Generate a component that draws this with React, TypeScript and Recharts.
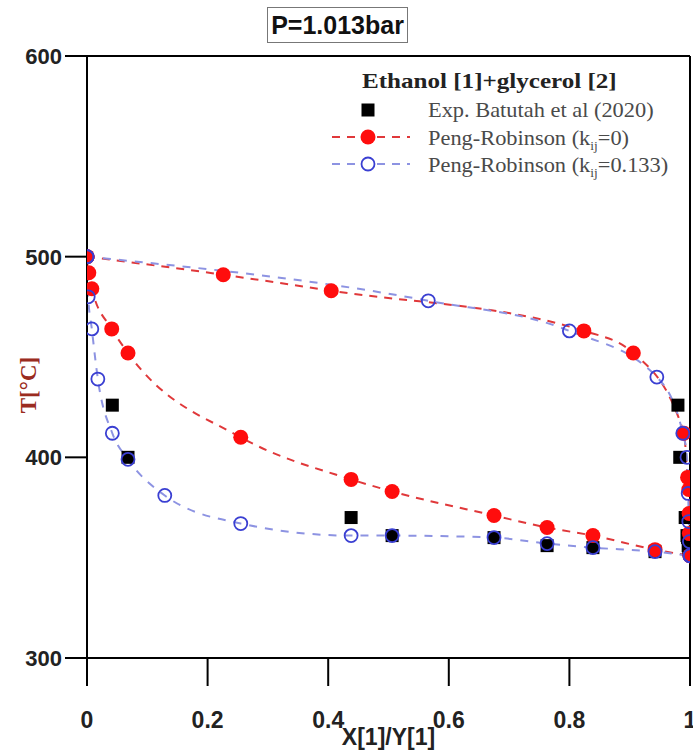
import React from 'react';
import { ComposedChart, Line, Scatter, XAxis, YAxis, ReferenceLine, Legend, Label } from 'recharts';

// Experimental data: Batutah et al (2020)
const expX = [0.042, 0.068, 0.438, 0.506, 0.675, 0.763, 0.839, 0.942, 0.980, 0.983, 0.992, 0.995, 0.996, 0.997, 0.998, 0.999];
const expT = [426, 400, 370, 361, 360, 356, 355, 353, 426, 400, 370, 361, 360, 356, 355, 353];

// Peng-Robinson kij = 0
const pr0BubbleX = [0, 0.003, 0.008, 0.041, 0.068, 0.255, 0.438, 0.506, 0.675, 0.763, 0.839, 0.942, 1];
const pr0BubbleT = [500, 492, 484, 464, 452, 410, 389, 383, 371, 365, 361, 354, 351];
const pr0DewX = [0, 0.226, 0.405, 0.824, 0.906, 0.99, 0.996, 0.998, 0.9985, 0.999, 1];
const pr0DewT = [500, 491, 483, 463, 452, 412, 390, 384, 372, 362, 351];

// Peng-Robinson kij = 0.133
const pr133BubbleX = [0, 0.002, 0.008, 0.018, 0.042, 0.068, 0.129, 0.255, 0.438, 0.506, 0.675, 0.763, 0.839, 0.942, 1];
const pr133BubbleT = [500, 480, 464, 439, 412, 399, 381, 367, 361, 361, 360, 357, 355, 353, 351];
const pr133DewX = [0, 0.566, 0.8, 0.945, 0.988, 0.995, 0.997, 0.998, 0.999, 1];
const pr133DewT = [500, 478, 463, 440, 412, 400, 382, 368, 358, 351];

const xMajorTicks = [0, 0.2, 0.4, 0.6, 0.8, 1];
const xMinorTicks = [0.1, 0.3, 0.5, 0.7, 0.9];
const yMajorTicks = [300, 400, 500, 600];
const yMinorTicks = [350, 450, 550];

const zip = (xs: number[], ts: number[]) => xs.map((x, i) => ({ x, t: ts[i] }));

const expData = zip(expX, expT);
const pr0Bubble = zip(pr0BubbleX, pr0BubbleT);
const pr0Dew = zip(pr0DewX, pr0DewT);
const pr133Bubble = zip(pr133BubbleX, pr133BubbleT);
const pr133Dew = zip(pr133DewX, pr133DewT);

const RED = '#ff0d0d';
const RED_LINE = '#e0383a';
const BLUE = '#3a3fd2';
const BLUE_LINE = '#8d93e2';
const SANS = '"Liberation Sans", Arial, sans-serif';
const SERIF = '"Liberation Serif", "Times New Roman", serif';

const YTick = (props: any) => {
  const { x, y, payload } = props;
  return (
    <text x={x} y={y} dy="0.36em" textAnchor="end" fontFamily={SANS} fontWeight="bold" fontSize={22} fill="#222" stroke="none">
      {String(payload.value)}
    </text>
  );
};

const XTick = (props: any) => {
  const { x, y, payload } = props;
  return (
    <text x={x} y={Number(y) + 34} dy="0.36em" textAnchor="middle" fontFamily={SANS} fontWeight="bold" fontSize={23} fill="#222" stroke="none">
      {String(payload.value)}
    </text>
  );
};

const SquareShape = (props: any) => {
  const { cx, cy } = props;
  return <rect x={cx - 6.5} y={cy - 6.5} width={13} height={13} fill="#000" />;
};

const renderLegend = () => (
  <svg width={693} height={200} style={{ display: 'block' }}>
    <g transform="translate(362,0) scale(1.14,1)">
      <text x={0} y={80} dy="0.35em" fontFamily={SERIF} fontWeight="bold" fontSize={22} fill="#222">
        Ethanol [1]+glycerol [2]
      </text>
    </g>
    <rect x={361.5} y={103.5} width={13} height={13} fill="#000" />
    <line x1={332} x2={410} y1={137} y2={137} stroke={RED_LINE} strokeWidth={2} strokeDasharray="8 7" />
    <circle cx={368} cy={137} r={7.5} fill={RED} />
    <line x1={332} x2={410} y1={164} y2={164} stroke={BLUE_LINE} strokeWidth={2} strokeDasharray="8 7" />
    <circle cx={368} cy={164} r={6.5} fill="#fff" stroke={BLUE} strokeWidth={1.8} />
    <g transform="translate(428,0) scale(1.12,1)" fontFamily={SERIF} fontSize={20} fill="#4a4a4a">
      <text x={0} y={110} dy="0.35em">
        Exp. Batutah et al (2020)
      </text>
      <text x={0} y={138} dy="0.35em">
        Peng-Robinson (k
        <tspan fontSize={12} dy={5}>ij</tspan>
        <tspan dy={-5}>=0)</tspan>
      </text>
      <text x={0} y={165} dy="0.35em">
        Peng-Robinson (k
        <tspan fontSize={12} dy={5}>ij</tspan>
        <tspan dy={-5}>=0.133)</tspan>
      </text>
    </g>
  </svg>
);

const redDot = { r: 7.5, fill: RED, stroke: 'none', strokeDasharray: 'none' };
const blueDot = { r: 6.5, fill: 'none', stroke: BLUE, strokeWidth: 1.8, strokeDasharray: 'none' };

export default function App() {
  return (
    <div style={{ position: 'absolute', left: 0, top: 0, width: 693, height: 751, background: '#fff' }}>
      <div
        style={{
          position: 'absolute',
          left: 267,
          top: 7,
          width: 139,
          height: 34,
          border: '1px solid #777',
          fontFamily: SANS,
          fontWeight: 'bold',
          fontSize: 25,
          lineHeight: '34px',
          textAlign: 'center',
          color: '#111',
          zIndex: 2,
        }}
      >
        P=1.013bar
      </div>
      <ComposedChart width={693} height={751} margin={{ top: 56, right: 3, bottom: 0, left: 0 }}>
        <XAxis
          xAxisId="minor"
          type="number"
          dataKey="x"
          domain={[0, 1]}
          ticks={xMinorTicks}
          interval={0}
          height={0}
          tickSize={15}
          tickLine={{ stroke: '#000', strokeWidth: 2 }}
          tick={false}
          axisLine={false}
        />
        <XAxis
          type="number"
          dataKey="x"
          domain={[0, 1]}
          ticks={xMajorTicks}
          interval={0}
          height={93}
          tickSize={28}
          tickMargin={0}
          tickLine={{ stroke: '#000', strokeWidth: 2 }}
          tick={<XTick />}
          axisLine={{ stroke: '#000', strokeWidth: 2 }}
          allowDataOverflow
        >
          <Label
            content={(p: any) => {
              const vb = p.viewBox || { x: 87, y: 658, width: 603, height: 93 };
              return (
                <text x={vb.x + vb.width / 2} y={vb.y + 79} dy="0.36em" textAnchor="middle" fontFamily={SANS} fontWeight="bold" fontSize={23} fill="#222">
                  X[1]/Y[1]
                </text>
              );
            }}
          />
        </XAxis>
        <YAxis
          yAxisId="minor"
          type="number"
          dataKey="t"
          domain={[300, 600]}
          ticks={yMinorTicks}
          interval={0}
          width={0}
          tickSize={10}
          tickLine={{ stroke: '#000', strokeWidth: 2 }}
          tick={false}
          axisLine={false}
        />
        <YAxis
          type="number"
          dataKey="t"
          domain={[300, 600]}
          ticks={yMajorTicks}
          interval={0}
          width={87}
          tickSize={22}
          tickMargin={3}
          tickLine={{ stroke: '#000', strokeWidth: 2 }}
          tick={<YTick />}
          axisLine={{ stroke: '#000', strokeWidth: 2 }}
          allowDataOverflow
        >
          <Label
            content={() => {
              const cx = 28;
              const cy = 385;
              return (
                <text x={cx} y={cy} dy="0.36em" textAnchor="middle" transform={`rotate(-90 ${cx} ${cy})`} fontFamily={SERIF} fontWeight="bold" fontSize={23} fill="#9a2b20">
                  T[°C]
                </text>
              );
            }}
          />
        </YAxis>
        <ReferenceLine y={600} stroke="#000" strokeWidth={2} />
        <ReferenceLine x={1} stroke="#000" strokeWidth={2} />
        <Legend content={renderLegend} layout="vertical" align="center" verticalAlign="middle" wrapperStyle={{ left: 0, top: 0, width: 693, height: 200, pointerEvents: 'none' }} />
        <Scatter name="Exp. Batutah et al (2020)" data={expData} fill="#000" shape={<SquareShape />} isAnimationActive={false} />
        <Line data={pr0Bubble} dataKey="t" type="monotone" stroke={RED_LINE} strokeWidth={2} strokeDasharray="8 7" dot={redDot} activeDot={false} isAnimationActive={false} legendType="none" />
        <Line data={pr0Dew} dataKey="t" type="monotone" stroke={RED_LINE} strokeWidth={2} strokeDasharray="8 7" dot={redDot} activeDot={false} isAnimationActive={false} legendType="none" />
        <Line data={pr133Bubble} dataKey="t" type="monotone" stroke={BLUE_LINE} strokeWidth={2} strokeDasharray="8 8" dot={blueDot} activeDot={false} isAnimationActive={false} legendType="none" />
        <Line data={pr133Dew} dataKey="t" type="monotone" stroke={BLUE_LINE} strokeWidth={2} strokeDasharray="8 8" dot={blueDot} activeDot={false} isAnimationActive={false} legendType="none" />
      </ComposedChart>
    </div>
  );
}
